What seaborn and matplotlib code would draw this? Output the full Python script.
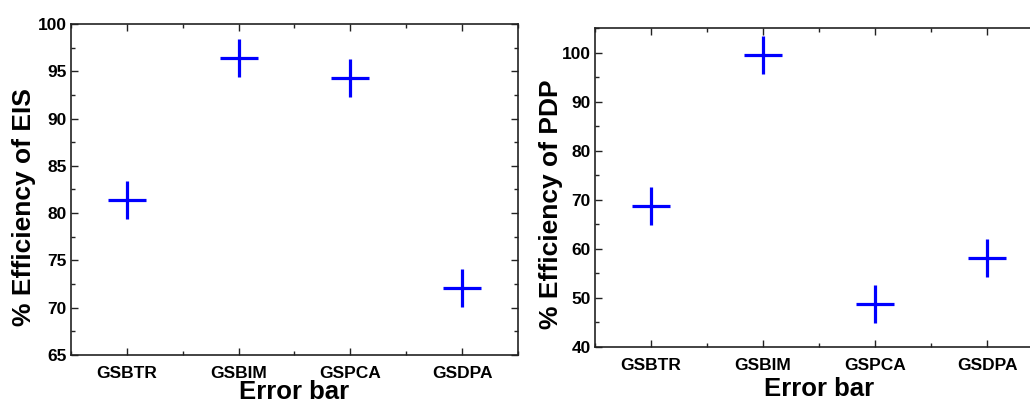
import matplotlib
matplotlib.use("Agg")
import matplotlib.pyplot as plt
from matplotlib.ticker import MultipleLocator
import seaborn as sns
import pandas as pd

categories = ["GSBTR", "GSBIM", "GSPCA", "GSDPA"]
eis_values = [81.4, 96.4, 94.3, 72.1]
pdp_values = [68.7, 99.6, 48.7, 58.2]

sns.set_theme(style="ticks")
plt.rcParams["font.family"] = ["Liberation Sans", "DejaVu Sans"]
plt.rcParams["font.weight"] = "bold"
plt.rcParams["text.color"] = "black"
plt.rcParams["axes.labelcolor"] = "black"
plt.rcParams["xtick.labelcolor"] = "black"
plt.rcParams["ytick.labelcolor"] = "black"

fig = plt.figure(figsize=(10.3, 4), dpi=100)
ax1 = fig.add_axes([0.0689, 0.1125, 0.434, 0.8275])
ax2 = fig.add_axes([0.5777, 0.1325, 0.435, 0.7975])

panels = [
    (ax1, eis_values, "% Efficiency of EIS", (65, 100), 5, -1.0, 1.0),
    (ax2, pdp_values, "% Efficiency of PDP", (40, 105), 10, 2.5, -0.5),
]

for ax, vals, ylab, ylim, step, xpad, ypad in panels:
    df = pd.DataFrame({"cat": categories, "val": vals})
    sns.scatterplot(data=df, x="cat", y="val", marker="+", s=730,
                    linewidth=2.3, color="#0000ff", ax=ax, zorder=3)
    ax.set_xlim(-0.5, 3.5)
    ax.set_ylim(*ylim)
    ax.yaxis.set_major_locator(MultipleLocator(step))
    ax.yaxis.set_minor_locator(MultipleLocator(step / 2))
    ax.xaxis.set_minor_locator(MultipleLocator(0.5))
    ax.tick_params(which="both", direction="in", top=True, right=True,
                   width=1.0, color="#222222")
    ax.tick_params(which="major", length=5, labelsize=12.5, pad=3,
                   labelcolor="black")
    ax.tick_params(which="minor", length=3)
    ax.tick_params(axis="x", which="major", pad=8)
    for lbl in ax.get_xticklabels() + ax.get_yticklabels():
        lbl.set_fontweight("bold")
    for sp in ax.spines.values():
        sp.set_linewidth(1.2)
        sp.set_color("#222222")
    ax.set_xlabel("Error bar", fontsize=18.5, fontweight="bold",
                  labelpad=xpad, color="black")
    ax.set_ylabel(ylab, fontsize=19, fontweight="bold", labelpad=ypad,
                  color="black")
    ax.yaxis.label.set_y(0.447)

fig.savefig("out.png", dpi=100)
